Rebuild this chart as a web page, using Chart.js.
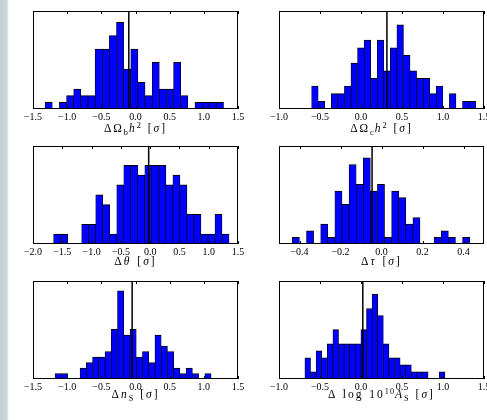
<!DOCTYPE html>
<html>
<head>
<meta charset="utf-8">
<script src="https://cdn.jsdelivr.net/npm/chart.js@4.4.1/dist/chart.umd.min.js"></script>
<style>
  html, body { margin: 0; padding: 0; }
  body {
    width: 487px; height: 420px; overflow: hidden; position: relative;
    background: linear-gradient(to right, #c4ced5 0px, #cdd6dc 7px, #fff 9px);
  }
  canvas { position: absolute; }
  .xlabel {
    position: absolute; text-align: center; white-space: nowrap; color: #000;
    font: 11.5px/14px "Liberation Serif", serif; letter-spacing: 2px; word-spacing: 1px;
  }
  .sb, .sp { font-size: 0.72em; position: relative; letter-spacing: 1px; }
  .sb { top: 0.3em; }
  .sp { top: -0.5em; }
</style>
</head>
<body>
<script>
// 25-bin histograms: first bin edge, bin width, counts, marker line
var obhStart = -1.322, obhWidth = 0.1044, obhMarker = -0.098;
var obhCounts = [1, 0, 1, 2, 3, 2, 2, 9, 9, 11, 13, 6, 9, 4, 2, 7, 3, 3, 7, 2, 0, 1, 1, 1, 1];

var ochStart = -0.602, ochWidth = 0.08, ochMarker = 0.316;
var ochCounts = [3, 1, 0, 2, 2, 3, 6, 8, 9, 4, 9, 5, 8, 11, 7, 5, 4, 4, 2, 3, 0, 2, 0, 1, 1];

var thetaStart = -1.648, thetaWidth = 0.1198, thetaMarker = -0.025;
var thetaCounts = [1, 1, 0, 0, 2, 2, 5, 4, 1, 6, 8, 8, 7, 8, 8, 8, 6, 7, 6, 3, 3, 1, 1, 3, 1];

var tauStart = -0.435, tauWidth = 0.0346, tauMarker = -0.046;
var tauCounts = [1, 0, 2, 0, 3, 1, 8, 6, 12, 9, 13, 8, 9, 1, 8, 7, 3, 4, 0, 0, 1, 2, 1, 0, 1];

var nsStart = -1.176, nsWidth = 0.0913, nsMarker = -0.049;
var nsCounts = [1, 1, 0, 0, 2, 3, 4, 4, 5, 9, 16, 8, 9, 4, 5, 3, 8, 6, 5, 2, 1, 2, 1, 0, 1];

var asStart = -0.684, asWidth = 0.0683, asMarker = 0.022;
var asCounts = [3, 1, 4, 3, 5, 7, 5, 5, 5, 5, 7, 10, 12, 9, 5, 3, 3, 2, 2, 1, 1, 1, 0, 0, 1];

// tick labels on the x axes
var ticks15 = [-1.5, -1.0, -0.5, 0.0, 0.5, 1.0, 1.5];
var ticks10 = [-1.0, -0.5, 0.0, 0.5, 1.0, 1.5];
var ticks20 = [-2.0, -1.5, -1.0, -0.5, 0.0, 0.5, 1.0, 1.5];
var ticksTau = [-0.4, -0.2, 0.0, 0.2, 0.4];

var PW = 205, PH = 98;   // plot area size
var PAD = 14;            // canvas margin left/right

var panels = [
  { start: obhStart, width: obhWidth, counts: obhCounts, marker: obhMarker, range: [-1.5, 1.5], ticks: ticks15, ymax: 14.7,
    left: 33, top: 11, base: 132, label: '\u0394\u03a9<span class="sb">b</span><i>h</i><span class="sp">2</span> [<i>\u03c3</i>]' },
  { start: ochStart, width: ochWidth, counts: ochCounts, marker: ochMarker, range: [-1.0, 1.5], ticks: ticks10, ymax: 12.8,
    left: 279, top: 11, base: 132, label: '\u0394\u03a9<span class="sb">c</span><i>h</i><span class="sp">2</span> [<i>\u03c3</i>]' },
  { start: thetaStart, width: thetaWidth, counts: thetaCounts, marker: thetaMarker, range: [-2.0, 1.5], ticks: ticks20, ymax: 9.95,
    left: 33, top: 146, base: 264.5, label: '\u0394<i>\u03b8</i> [<i>\u03c3</i>]' },
  { start: tauStart, width: tauWidth, counts: tauCounts, marker: tauMarker, range: [-0.5, 0.5], ticks: ticksTau, ymax: 14.8,
    left: 279, top: 146, base: 264.5, label: '\u0394<i>\u03c4</i> [<i>\u03c3</i>]' },
  { start: nsStart, width: nsWidth, counts: nsCounts, marker: nsMarker, range: [-1.5, 1.5], ticks: ticks15, ymax: 17.8,
    left: 33, top: 281, base: 398, label: '\u0394<i>n</i><span class="sb">S</span> [<i>\u03c3</i>]' },
  { start: asStart, width: asWidth, counts: asCounts, marker: asMarker, range: [-1.0, 1.5], ticks: ticks10, ymax: 13.9,
    left: 279, top: 281, base: 398.3, label: '\u0394 log 10<span class="sp">10</span><i>A</i><span class="sb">S</span> [<i>\u03c3</i>]' }
];

// axes frame plus inward tick marks, drawn on top of the bars
var framePlugin = {
  id: 'frame',
  afterDatasetsDraw: function (chart) {
    var ctx = chart.ctx, a = chart.chartArea, xs = chart.scales.x;
    ctx.save();
    ctx.strokeStyle = '#000';
    ctx.lineWidth = 1;
    ctx.beginPath();
    xs.ticks.forEach(function (t) {
      var px = Math.round(xs.getPixelForValue(t.value)) + 0.5;
      ctx.moveTo(px, a.top); ctx.lineTo(px, a.top + 3);
      ctx.moveTo(px, a.bottom); ctx.lineTo(px, a.bottom - 3);
    });
    ctx.stroke();
    ctx.strokeRect(a.left + 0.5, a.top + 0.5, a.right - a.left - 1, a.bottom - a.top - 1);
    ctx.restore();
  }
};

function fmt(v) {
  return (v < 0 ? '\u2212' : '') + Math.abs(v).toFixed(1);
}

panels.forEach(function (p) {
  var canvas = document.createElement('canvas');
  canvas.width = PW + 2 * PAD;
  canvas.height = PH + 4 + 15 + 2;
  canvas.style.left = (p.left - PAD) + 'px';
  canvas.style.top = (p.top - 4) + 'px';
  document.body.appendChild(canvas);

  var bars = p.counts.map(function (c, i) {
    return { x: p.start + (i + 0.5) * p.width, y: c };
  });

  new Chart(canvas, {
    type: 'bar',
    data: {
      datasets: [
        {
          type: 'line',
          data: [{ x: p.marker, y: 0 }, { x: p.marker, y: p.ymax }],
          borderColor: '#000',
          borderWidth: 1.5,
          pointRadius: 0,
          order: 0
        },
        {
          data: bars,
          backgroundColor: '#0000ff',
          borderColor: '#000',
          borderWidth: { top: 1, left: 0.7, right: 0.7 },
          barPercentage: 1,
          categoryPercentage: 1,
          order: 1
        }
      ]
    },
    options: {
      responsive: false,
      animation: false,
      devicePixelRatio: 1,
      layout: { padding: { left: PAD, right: PAD, top: 4, bottom: 2 } },
      plugins: { legend: { display: false }, tooltip: { enabled: false } },
      scales: {
        x: {
          type: 'linear',
          min: p.range[0],
          max: p.range[1],
          offset: false,
          afterBuildTicks: function (s) {
            s.ticks = p.ticks.map(function (v) { return { value: v }; });
          },
          afterFit: function (s) { s.height = 15; },
          grid: { display: false, drawTicks: false, offset: false },
          border: { display: false },
          ticks: {
            autoSkip: false,
            maxRotation: 0,
            padding: 3,
            color: '#000',
            font: { family: '"Liberation Serif", serif', size: 10, lineHeight: 1 },
            callback: fmt
          }
        },
        y: { display: false, min: 0, max: p.ymax }
      }
    },
    plugins: [framePlugin]
  });

  var lab = document.createElement('div');
  lab.className = 'xlabel';
  lab.style.left = p.left + 'px';
  lab.style.width = PW + 'px';
  lab.style.top = (p.base - 10.9) + 'px';
  lab.innerHTML = p.label;
  document.body.appendChild(lab);
});
</script>
</body>
</html>
